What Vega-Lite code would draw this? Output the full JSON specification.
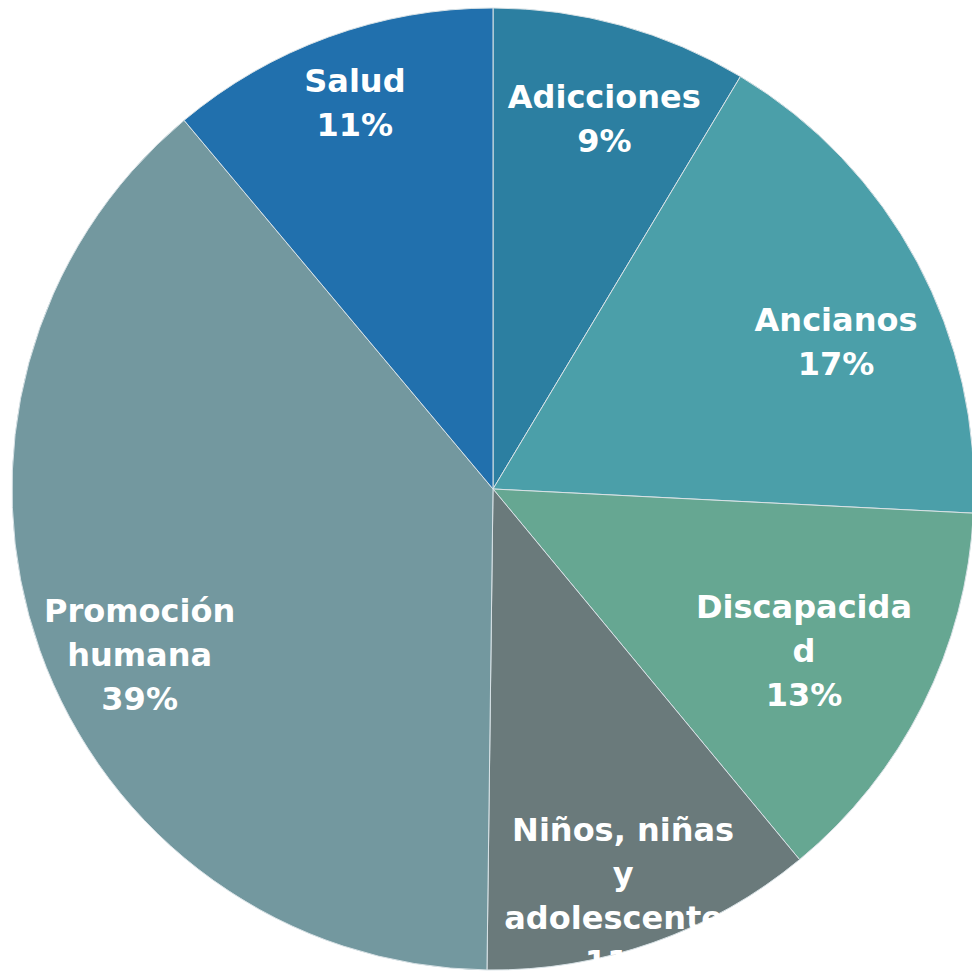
{
  "$schema": "https://vega.github.io/schema/vega-lite/v6.json",
  "autosize": {"type": "none"},
  "width": 958,
  "height": 964,
  "padding": {"left": 14, "top": 7, "right": 0, "bottom": 0},
  "background": "white",
  "view": {"stroke": null},
  "data": {
    "values": [
      {"categoria": "Adicciones", "valor": 8.6, "orden": 1, "label": "Adicciones\n9%"},
      {"categoria": "Ancianos", "valor": 17.2, "orden": 2, "label": "Ancianos\n17%"},
      {"categoria": "Discapacidad", "valor": 13.2, "orden": 3, "label": "Discapacida\nd\n13%"},
      {"categoria": "Niños, niñas y adolescentes", "valor": 11.2, "orden": 4, "label": "Niños, niñas\ny\nadolescentes\n11%"},
      {"categoria": "Promoción humana", "valor": 38.7, "orden": 5, "label": "Promoción\nhumana\n39%"},
      {"categoria": "Salud", "valor": 11.1, "orden": 6, "label": "Salud\n11%"}
    ]
  },
  "encoding": {
    "theta": {"field": "valor", "type": "quantitative", "stack": true},
    "order": {"field": "orden", "type": "quantitative", "sort": "ascending"}
  },
  "layer": [
    {
      "mark": {"type": "arc", "outerRadius": 481, "stroke": "#d8e2e6", "strokeWidth": 1},
      "encoding": {
        "color": {
          "field": "categoria",
          "type": "nominal",
          "legend": null,
          "scale": {
            "domain": ["Adicciones", "Ancianos", "Discapacidad", "Niños, niñas y adolescentes", "Promoción humana", "Salud"],
            "range": ["#2c7fa1", "#4b9fa9", "#66a792", "#6a7a7b", "#73989f", "#2170ad"]
          }
        }
      }
    },
    {
      "mark": {"type": "text", "radius": 387, "dx": 8, "dy": -18, "font": "DejaVu Sans", "fontWeight": "bold", "fontSize": 32, "fill": "white", "lineBreak": "\n", "lineHeight": 44, "align": "center", "baseline": "middle"},
      "encoding": {"text": {"condition": {"test": "datum.categoria === 'Adicciones'", "field": "label"}, "value": ""}}
    },
    {
      "mark": {"type": "text", "radius": 365, "dx": 21, "dy": 4, "font": "DejaVu Sans", "fontWeight": "bold", "fontSize": 32, "fill": "white", "lineBreak": "\n", "lineHeight": 44, "align": "center", "baseline": "middle"},
      "encoding": {"text": {"condition": {"test": "datum.categoria === 'Ancianos'", "field": "label"}, "value": ""}}
    },
    {
      "mark": {"type": "text", "radius": 320, "dx": 25, "dy": -24, "font": "DejaVu Sans", "fontWeight": "bold", "fontSize": 32, "fill": "white", "lineBreak": "\n", "lineHeight": 44, "align": "center", "baseline": "middle"},
      "encoding": {"text": {"condition": {"test": "datum.categoria === 'Discapacidad'", "field": "label"}, "value": ""}}
    },
    {
      "mark": {"type": "text", "radius": 424, "dx": -11, "dy": -58, "font": "DejaVu Sans", "fontWeight": "bold", "fontSize": 32, "fill": "white", "lineBreak": "\n", "lineHeight": 44, "align": "center", "baseline": "middle"},
      "encoding": {"text": {"condition": {"test": "datum.categoria === 'Niños, niñas y adolescentes'", "field": "label"}, "value": ""}}
    },
    {
      "mark": {"type": "text", "radius": 390, "dx": 14, "dy": -8, "font": "DejaVu Sans", "fontWeight": "bold", "fontSize": 32, "fill": "white", "lineBreak": "\n", "lineHeight": 44, "align": "center", "baseline": "middle"},
      "encoding": {"text": {"condition": {"test": "datum.categoria === 'Promoción humana'", "field": "label"}, "value": ""}}
    },
    {
      "mark": {"type": "text", "radius": 413, "dx": 3, "dy": -19, "font": "DejaVu Sans", "fontWeight": "bold", "fontSize": 32, "fill": "white", "lineBreak": "\n", "lineHeight": 44, "align": "center", "baseline": "middle"},
      "encoding": {"text": {"condition": {"test": "datum.categoria === 'Salud'", "field": "label"}, "value": ""}}
    }
  ]
}
